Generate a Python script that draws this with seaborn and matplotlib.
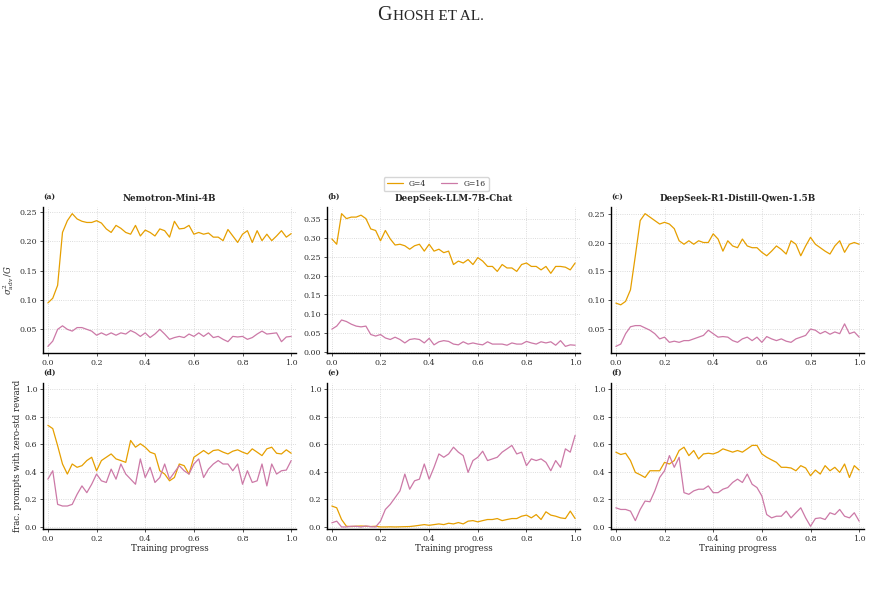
"""Advantage variance and zero-std prompt fraction over training, G=4 vs G=16."""

import matplotlib.pyplot as plt
import numpy as np
import pandas as pd
import seaborn as sns

progress = np.linspace(0.0, 1.0, 51)

models = ["Nemotron-Mini-4B", "DeepSeek-LLM-7B-Chat", "DeepSeek-R1-Distill-Qwen-1.5B"]
group_labels = ["G=4", "G=16"]
panel_tags = ["(a)", "(b)", "(c)", "(d)", "(e)", "(f)"]

# sigma^2_adv / G  (top row)
adv_nemotron_g4 = [0.095, 0.103, 0.125, 0.215, 0.235, 0.247, 0.238, 0.234, 0.232, 0.232,
                   0.235, 0.231, 0.221, 0.215, 0.227, 0.222, 0.215, 0.212, 0.227, 0.209,
                   0.219, 0.215, 0.209, 0.221, 0.218, 0.207, 0.234, 0.221, 0.222, 0.227,
                   0.212, 0.215, 0.212, 0.214, 0.207, 0.207, 0.201, 0.220, 0.209, 0.198,
                   0.212, 0.218, 0.198, 0.218, 0.201, 0.212, 0.201, 0.209, 0.218, 0.207,
                   0.213]
adv_nemotron_g16 = [0.021, 0.030, 0.050, 0.056, 0.050, 0.047, 0.053, 0.053, 0.050, 0.047,
                    0.040, 0.044, 0.040, 0.044, 0.040, 0.044, 0.042, 0.048, 0.044, 0.038,
                    0.044, 0.036, 0.042, 0.050, 0.042, 0.033, 0.036, 0.038, 0.036, 0.042,
                    0.038, 0.044, 0.038, 0.044, 0.036, 0.038, 0.033, 0.029, 0.038, 0.037,
                    0.038, 0.033, 0.036, 0.042, 0.047, 0.042, 0.043, 0.044, 0.029, 0.037,
                    0.038]
adv_dsllm_g4 = [0.297, 0.283, 0.363, 0.350, 0.354, 0.354, 0.359, 0.350, 0.323, 0.319,
                0.292, 0.319, 0.297, 0.281, 0.283, 0.279, 0.270, 0.279, 0.283, 0.265,
                0.283, 0.265, 0.270, 0.261, 0.265, 0.230, 0.239, 0.234, 0.243, 0.230,
                0.248, 0.239, 0.225, 0.225, 0.212, 0.230, 0.221, 0.221, 0.212, 0.230,
                0.234, 0.225, 0.225, 0.216, 0.225, 0.207, 0.225, 0.225, 0.223, 0.216,
                0.234]
adv_dsllm_g16 = [0.061, 0.069, 0.085, 0.081, 0.074, 0.069, 0.067, 0.069, 0.047, 0.043,
                 0.047, 0.038, 0.034, 0.040, 0.034, 0.025, 0.034, 0.036, 0.034, 0.025,
                 0.037, 0.020, 0.028, 0.031, 0.029, 0.022, 0.020, 0.028, 0.022, 0.025,
                 0.022, 0.020, 0.028, 0.022, 0.022, 0.022, 0.019, 0.025, 0.022, 0.022,
                 0.029, 0.025, 0.022, 0.028, 0.025, 0.028, 0.019, 0.031, 0.016, 0.020,
                 0.019]
adv_r1qwen_g4 = [0.095, 0.092, 0.098, 0.118, 0.177, 0.238, 0.250, 0.244, 0.238, 0.232,
                 0.235, 0.232, 0.224, 0.203, 0.197, 0.203, 0.197, 0.203, 0.200, 0.200,
                 0.215, 0.206, 0.185, 0.203, 0.194, 0.191, 0.206, 0.194, 0.191, 0.191,
                 0.183, 0.177, 0.185, 0.194, 0.188, 0.180, 0.203, 0.197, 0.177, 0.194,
                 0.209, 0.197, 0.191, 0.185, 0.180, 0.194, 0.203, 0.183, 0.197, 0.200,
                 0.197]
adv_r1qwen_g16 = [0.020, 0.024, 0.042, 0.054, 0.056, 0.056, 0.052, 0.048, 0.042, 0.033,
                  0.036, 0.027, 0.029, 0.027, 0.030, 0.030, 0.033, 0.036, 0.039, 0.048,
                  0.042, 0.036, 0.037, 0.036, 0.030, 0.027, 0.033, 0.036, 0.030, 0.036,
                  0.027, 0.037, 0.033, 0.030, 0.033, 0.029, 0.027, 0.033, 0.036, 0.039,
                  0.050, 0.048, 0.042, 0.046, 0.041, 0.045, 0.042, 0.059, 0.042, 0.045,
                  0.036]

# fraction of prompts with zero-std reward (bottom row)
zs_nemotron_g4 = [0.738, 0.714, 0.590, 0.457, 0.384, 0.457, 0.433, 0.445, 0.482, 0.506,
                  0.408, 0.482, 0.506, 0.530, 0.494, 0.482, 0.469, 0.628, 0.579, 0.604,
                  0.579, 0.543, 0.530, 0.408, 0.384, 0.335, 0.359, 0.457, 0.445, 0.384,
                  0.506, 0.530, 0.555, 0.530, 0.555, 0.560, 0.543, 0.530, 0.550, 0.560,
                  0.543, 0.530, 0.567, 0.543, 0.518, 0.567, 0.579, 0.535, 0.530, 0.560,
                  0.535]
zs_nemotron_g16 = [0.347, 0.408, 0.164, 0.152, 0.152, 0.164, 0.237, 0.298, 0.249, 0.310,
                   0.384, 0.335, 0.323, 0.420, 0.347, 0.457, 0.384, 0.347, 0.310, 0.494,
                   0.359, 0.433, 0.323, 0.359, 0.457, 0.347, 0.396, 0.445, 0.408, 0.384,
                   0.457, 0.494, 0.359, 0.420, 0.457, 0.482, 0.457, 0.457, 0.408, 0.457,
                   0.310, 0.408, 0.323, 0.335, 0.457, 0.298, 0.457, 0.384, 0.408, 0.413,
                   0.482]
zs_dsllm_g4 = [0.152, 0.139, 0.054, 0.005, 0.003, 0.005, 0.007, 0.005, 0.003, 0.005,
               0.000, 0.000, 0.001, 0.000, 0.001, 0.002, 0.003, 0.007, 0.012, 0.017,
               0.012, 0.017, 0.022, 0.017, 0.027, 0.022, 0.032, 0.022, 0.042, 0.046,
               0.037, 0.046, 0.054, 0.054, 0.061, 0.046, 0.054, 0.061, 0.061, 0.078,
               0.086, 0.066, 0.090, 0.054, 0.110, 0.086, 0.078, 0.066, 0.061, 0.115,
               0.061]
zs_dsllm_g16 = [0.030, 0.042, 0.000, 0.000, 0.005, 0.005, 0.000, 0.007, 0.002, 0.000,
                0.042, 0.127, 0.164, 0.213, 0.262, 0.384, 0.274, 0.335, 0.347, 0.457,
                0.347, 0.433, 0.530, 0.506, 0.530, 0.579, 0.543, 0.518, 0.396, 0.482,
                0.506, 0.550, 0.482, 0.494, 0.506, 0.543, 0.567, 0.592, 0.530, 0.543,
                0.445, 0.494, 0.482, 0.494, 0.469, 0.408, 0.482, 0.433, 0.567, 0.543,
                0.665]
zs_r1qwen_g4 = [0.543, 0.526, 0.535, 0.482, 0.396, 0.379, 0.359, 0.408, 0.408, 0.408,
                0.469, 0.457, 0.482, 0.555, 0.579, 0.518, 0.555, 0.494, 0.530, 0.535,
                0.530, 0.543, 0.567, 0.555, 0.543, 0.555, 0.543, 0.567, 0.592, 0.592,
                0.530, 0.506, 0.487, 0.469, 0.433, 0.433, 0.428, 0.408, 0.445, 0.428,
                0.372, 0.413, 0.384, 0.445, 0.408, 0.433, 0.396, 0.457, 0.359, 0.445,
                0.413]
zs_r1qwen_g16 = [0.139, 0.127, 0.127, 0.115, 0.046, 0.127, 0.188, 0.183, 0.262, 0.359,
                 0.408, 0.518, 0.433, 0.506, 0.249, 0.237, 0.262, 0.274, 0.274, 0.298,
                 0.249, 0.249, 0.274, 0.286, 0.323, 0.347, 0.323, 0.384, 0.310, 0.286,
                 0.225, 0.090, 0.066, 0.078, 0.078, 0.115, 0.066, 0.103, 0.139, 0.066,
                 0.005, 0.061, 0.066, 0.054, 0.103, 0.090, 0.127, 0.078, 0.066, 0.103,
                 0.042]

top_series = [(adv_nemotron_g4, adv_nemotron_g16),
              (adv_dsllm_g4, adv_dsllm_g16),
              (adv_r1qwen_g4, adv_r1qwen_g16)]
bottom_series = [(zs_nemotron_g4, zs_nemotron_g16),
                 (zs_dsllm_g4, zs_dsllm_g16),
                 (zs_r1qwen_g4, zs_r1qwen_g16)]

palette = {"G=4": "#E69F00", "G=16": "#CC79A7"}


def make_frame(g4, g16):
    return pd.DataFrame({
        "progress": np.concatenate([progress, progress]),
        "value": np.concatenate([g4, g16]),
        "group": [group_labels[0]] * len(g4) + [group_labels[1]] * len(g16),
    })


sns.set_theme(style="ticks")
plt.rcParams["font.family"] = ["DejaVu Serif"]
plt.rcParams["mathtext.fontset"] = "dejavuserif"

fig = plt.figure(figsize=(8.71, 5.94), dpi=100)

lefts = [0.0494, 0.3754, 0.7015]
width, height = 0.2905, 0.2458
bottoms = [0.4057, 0.1094]

axes = []
for row, series in enumerate([top_series, bottom_series]):
    for col, (g4, g16) in enumerate(series):
        ax = fig.add_axes([lefts[col], bottoms[row], width, height])
        sns.lineplot(data=make_frame(g4, g16), x="progress", y="value", hue="group",
                     palette=palette, linewidth=0.9, legend=False, ax=ax)
        ax.set_xlim(-0.02, 1.02)
        ax.set_xticks([0.0, 0.2, 0.4, 0.6, 0.8, 1.0])
        ax.grid(True, linestyle=":", color="#d0d0d0", linewidth=0.6)
        ax.tick_params(labelsize=5.8, length=2.5, width=0.6, pad=1.5, colors="#333333")
        ax.set_xlabel("")
        ax.set_ylabel("")
        for side in ["left", "bottom"]:
            ax.spines[side].set_linewidth(1.0)
            ax.spines[side].set_color("black")
        sns.despine(ax=ax)
        ax.text(0.0, 1.04, panel_tags[row * 3 + col], transform=ax.transAxes,
                fontsize=5.5, fontweight="bold", ha="left", va="bottom")
        if row == 0:
            ax.set_title(models[col], fontsize=6.3, fontweight="bold", pad=4)
        else:
            ax.set_ylim(-0.015, 1.045)
            ax.set_yticks([0.0, 0.2, 0.4, 0.6, 0.8, 1.0])
            ax.set_xlabel("Training progress", fontsize=6.2, labelpad=1)
        axes.append(ax)

axes[0].set_ylabel(r"$\sigma^2_{\rm adv}\,/G$", fontsize=6.2, labelpad=3)
axes[3].set_ylabel("frac. prompts with zero-std reward", fontsize=6.2, labelpad=2)

handles = [plt.Line2D([], [], color=palette[g], linewidth=0.9) for g in group_labels]
fig.legend(handles, group_labels, loc="center", bbox_to_anchor=(0.5007, 0.69), ncol=2,
           fontsize=5.5, frameon=True, handlelength=2.1, handletextpad=0.8,
           columnspacing=2.0, borderpad=0.4, edgecolor="#cccccc", fancybox=True)

# page running header (small caps)
head_y = 0.966
head_cap = fig.text(0.0, head_y, "G", fontsize=14.5, family="Liberation Serif",
                    ha="left", va="baseline")
head_rest = fig.text(0.0, head_y, "HOSH ET AL.", fontsize=11, family="Liberation Serif",
                     ha="left", va="baseline")
fig.canvas.draw()
w_cap = head_cap.get_window_extent().width / fig.bbox.width
w_rest = head_rest.get_window_extent().width / fig.bbox.width
start = 0.4937 - (w_cap + w_rest) / 2
head_cap.set_x(start)
head_rest.set_x(start + w_cap + 0.001)

fig.savefig("out.png", dpi=100)
plt.close(fig)
